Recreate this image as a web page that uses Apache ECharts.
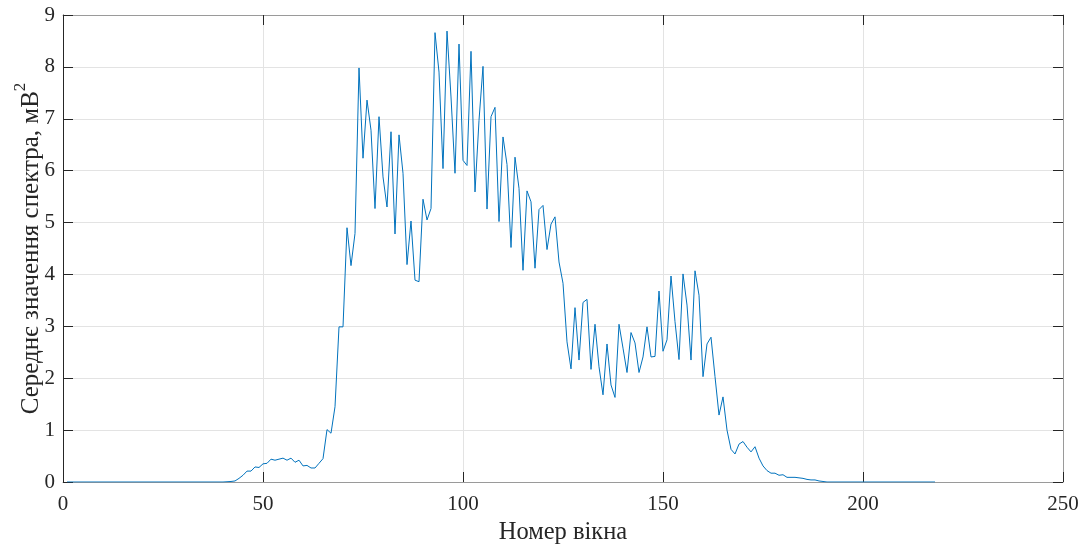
<!DOCTYPE html>
<html>
<head>
<meta charset="utf-8">
<script src="https://cdn.jsdelivr.net/npm/echarts@6/dist/echarts.min.js"></script>
<style>html,body{margin:0;padding:0;background:#fff;}#c{width:1087px;height:546px;}</style>
</head>
<body>
<div id="c"></div>
<script>
// x: window number 1..218
const windowStart = 1;
const zerosBefore = [0,0,0,0,0,0,0,0,0,0,0,0,0,0,0,0,0,0,0,0,0,0,0,0,0,0,0,0,0,0,0,0,0,0,0,0,0,0,0,0,0.005,0.01];
const riseValues = [0.02,0.07,0.13,0.21,0.21,0.29,0.28,0.35,0.36,0.44,0.42,0.44,0.46,0.42,0.46,0.38,0.42,0.31,0.32,0.27,0.27,0.36,0.45,1.01,0.94,1.45,2.99,2.99];
const peakValues = [4.90,4.17,4.79,7.98,6.24,7.36,6.78,5.27,7.04,5.88,5.30,6.75,4.78,6.69,5.95,4.19,5.03,3.89,3.86,5.45,5.05,5.27,8.66,7.9,6.04,8.69,7.42,5.95,8.44,6.20,6.10,8.30,5.59,6.97,8.01,5.26,7.04,7.22,5.02,6.65,6.12,4.52,6.26,5.66,4.08,5.61,5.40,4.12,5.25,5.33,4.48,4.97,5.11,4.24,3.83];
const secondValues = [2.70,2.18,3.36,2.35,3.46,3.52,2.17,3.04,2.22,1.68,2.66,1.87,1.63,3.04,2.58,2.11,2.88,2.68,2.11,2.41,2.99,2.41,2.42,3.68,2.52,2.74,3.97,3.09,2.36,4.01,3.41,2.35,4.07,3.60,2.03,2.66,2.79,2.03,1.29,1.64,1.00];
const tailValues = [0.63,0.54,0.73,0.78,0.67,0.58,0.68,0.46,0.31,0.22,0.17,0.17,0.13,0.14,0.09,0.09,0.09,0.08,0.07,0.05,0.04,0.04,0.02,0.01];
const zerosAfter = [0,0,0,0,0,0,0,0,0,0,0,0,0,0,0,0,0,0,0,0,0,0,0,0,0,0,0,0];
const xTicks = [0,50,100,150,200,250];
const yTicks = [0,1,2,3,4,5,6,7,8,9];
const xTitle = 'Номер вікна';
const yTitle = 'Середнє значення спектра, мВ';

const values = [].concat(zerosBefore, riseValues, peakValues, secondValues, tailValues, zerosAfter);
const seriesData = values.map((v, i) => [windowStart + i, v]);

const font = '"Liberation Serif", "Times New Roman", serif';
const dark = '#262626';
const chart = echarts.init(document.getElementById('c'));
const tickInside = {show: true, inside: true, length: 10, lineStyle: {color: dark, width: 1}};
chart.setOption({
  animation: false,
  grid: {left: 63, right: 24, top: 15, bottom: 64, containLabel: false, outerBoundsMode: 'none'},
  xAxis: [{
    type: 'value', min: xTicks[0], max: xTicks[xTicks.length-1], interval: 50,
    name: xTitle, nameLocation: 'middle', nameGap: 37,
    nameTextStyle: {fontFamily: font, fontSize: 24.5, color: dark},
    axisLine: {show: true, onZero: false, lineStyle: {color: '#9a9a9a', width: 1}},
    axisTick: tickInside,
    axisLabel: {fontFamily: font, fontSize: 21, color: dark, margin: 12},
    splitLine: {show: true, lineStyle: {color: '#e3e3e3', width: 1}}
  }, {
    type: 'value', position: 'top', min: xTicks[0], max: xTicks[xTicks.length-1], interval: 50,
    axisLine: {show: true, onZero: false, lineStyle: {color: '#9a9a9a', width: 1}},
    axisTick: tickInside, axisLabel: {show: false}, splitLine: {show: false}
  }],
  yAxis: [{
    type: 'value', min: yTicks[0], max: yTicks[yTicks.length-1], interval: 1,
    name: '{a|' + yTitle + '}{s|2}', nameLocation: 'middle', nameGap: 19, nameRotate: 90,
    nameMoveOverlap: false,
    nameTextStyle: {
      rich: {
        a: {fontFamily: font, fontSize: 25, color: dark, lineHeight: 32, verticalAlign: 'bottom'},
        s: {fontFamily: font, fontSize: 17, color: dark, lineHeight: 32, verticalAlign: 'top'}
      }
    },
    axisLine: {show: true, onZero: false, lineStyle: {color: dark, width: 1}},
    axisTick: tickInside,
    axisLabel: {fontFamily: font, fontSize: 21, color: dark, margin: 8},
    splitLine: {show: true, lineStyle: {color: '#e3e3e3', width: 1}}
  }, {
    type: 'value', position: 'right', min: yTicks[0], max: yTicks[yTicks.length-1], interval: 1,
    axisLine: {show: true, onZero: false, lineStyle: {color: '#9a9a9a', width: 1}},
    axisTick: tickInside, axisLabel: {show: false}, splitLine: {show: false}
  }],
  series: [{
    type: 'line', data: seriesData, xAxisIndex: 0, yAxisIndex: 0,
    showSymbol: false, symbol: 'none',
    lineStyle: {color: '#0072BD', width: 1},
    z: 3
  }]
});
</script>
</body>
</html>
